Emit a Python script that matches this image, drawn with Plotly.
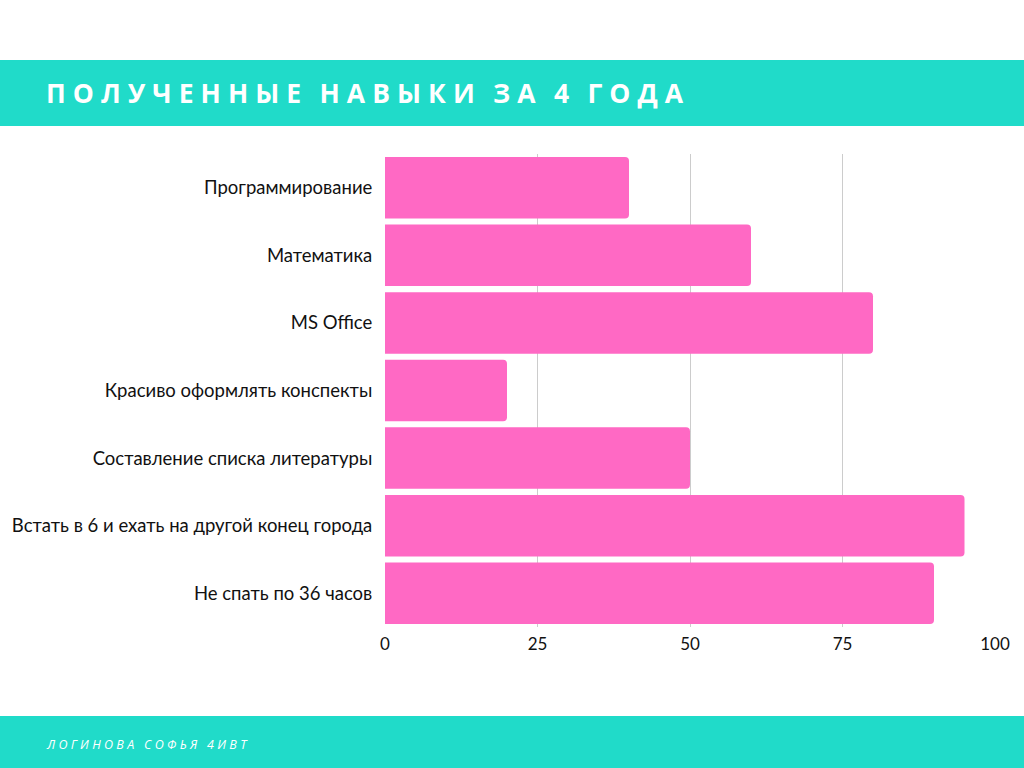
import plotly.graph_objects as go

categories = [
    "Программирование",
    "Математика",
    "MS Office",
    "Красиво оформлять конспекты",
    "Составление списка литературы",
    "Встать в 6 и ехать на другой конец города",
    "Не спать по 36 часов",
]
values = [40, 60, 80, 20, 50, 95, 90]
tick_vals = [0, 25, 50, 75, 100]

title_text = "ПОЛУЧЕННЫЕ НАВЫКИ ЗА 4 ГОДА"
footer_text = "ЛОГИНОВА СОФЬЯ 4ИВТ"

TEAL = "#20DBC9"
PINK = "#FF69C4"

L, R, T, B = 385, 29, 154, 141
PW, PH = 1024 - L - R, 768 - T - B


def spaced(s, sep, wsep):
    words = s.split(" ")
    return wsep.join(sep.join(w) for w in words)


def px_x(px):
    return (px - L) / PW


def px_y(py):
    return (768 - B - py) / PH


fig = go.Figure()
fig.add_trace(go.Bar(
    x=values,
    y=categories,
    orientation="h",
    marker=dict(color=PINK, cornerradius=4, line=dict(width=0)),
    hoverinfo="x+y",
))

fig.update_layout(
    width=1024,
    height=768,
    margin=dict(l=L, r=R, t=T, b=B, pad=0),
    paper_bgcolor="white",
    plot_bgcolor="white",
    bargap=0.09,
    showlegend=False,
    font=dict(family="Lato", size=16, color="#111111"),
    xaxis=dict(
        range=[0, 100],
        tickvals=tick_vals,
        showgrid=True,
        gridcolor="#cccccc",
        gridwidth=1,
        zeroline=False,
        showline=False,
        ticks="outside",
        ticklen=2,
        tickcolor="rgba(0,0,0,0)",
        tickfont=dict(family="Lato", size=17, color="#111111"),
    ),
    yaxis=dict(
        autorange="reversed",
        showgrid=False,
        zeroline=False,
        showline=False,
        ticks="outside",
        ticklen=8,
        tickcolor="rgba(0,0,0,0)",
        tickfont=dict(family="Lato", size=18.5, color="#111111"),
    ),
    shapes=[
        dict(type="rect", xref="paper", yref="paper", layer="below",
             x0=px_x(0), x1=px_x(1024), y0=px_y(126), y1=px_y(60),
             fillcolor=TEAL, line=dict(width=0)),
        dict(type="rect", xref="paper", yref="paper", layer="below",
             x0=px_x(0), x1=px_x(1024), y0=px_y(768), y1=px_y(716),
             fillcolor=TEAL, line=dict(width=0)),
    ],
    annotations=[
        dict(text="<b>" + spaced(title_text, "\u2009\u200a", "\u2009\u200a \u2009") + "</b>",
             xref="paper", yref="paper",
             x=px_x(44), y=px_y(93), xanchor="left", yanchor="middle",
             showarrow=False, font=dict(family="Open Sans", size=26.5, color="white")),
        dict(text="<i>" + spaced(footer_text, "\u2009\u200a", "\u2009\u200a \u2009\u200a") + "</i>",
             xref="paper", yref="paper",
             x=px_x(44), y=px_y(744), xanchor="left", yanchor="middle",
             showarrow=False, font=dict(family="Open Sans", size=12.5, color="white")),
    ],
)

fig.write_html("out.html", config={"displayModeBar": False})
with open("out.html", encoding="utf-8") as f:
    html = f.read()
html = html.replace("<body>", "<body style=\"margin:0;padding:0\">", 1)
with open("out.html", "w", encoding="utf-8") as f:
    f.write(html)
